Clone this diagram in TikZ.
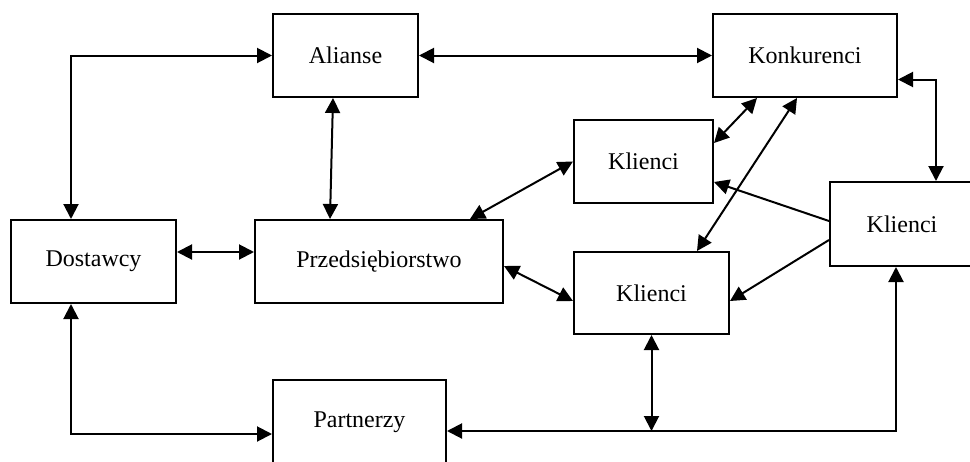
\documentclass[tikz,border=0pt]{standalone}
\usepackage{fontspec}
\setmainfont{Liberation Serif}
\usepackage{tikz}
\usetikzlibrary{positioning, arrows.meta}

\begin{document}
\begin{tikzpicture}[
  x=0.5pt, y=-0.5pt,
  box/.style={rectangle, draw, line width=1pt, minimum height=41.5pt, align=center, font=\fontsize{12pt}{14pt}\selectfont},
  arrow/.style={-{Triangle[length=7.5pt, width=7.5pt]}, line width=1pt},
  dblarrow/.style={{Triangle[length=7.5pt, width=7.5pt]}-{Triangle[length=7.5pt, width=7.5pt]}, line width=1pt},
  every node/.style={inner sep=2pt}
]
\useasboundingbox (0,0) rectangle (970,461);
\node[box, minimum width=72.5pt] (alianse) at (345.5,55.5) {Alianse};
\node[box, minimum width=92pt] (konkurenci) at (805,55.5) {Konkurenci};
\node[box, minimum width=69.5pt] (klienciA) at (643.5,161.5) {Klienci};
\node[box, minimum width=72pt, minimum height=42pt] (klienciR) at (902,224) {Klienci};
\node[box, minimum width=82.5pt] (dostawcy) at (93.5,261.5) {Dostawcy};
\node[box, minimum width=124pt] (firma) at (379,261.5) {Przedsiębiorstwo};
\node[box, minimum width=77.5pt, minimum height=41pt] (klienciB) at (651.5,293) {Klienci};
\node[box, minimum width=86.5pt, minimum height=42pt] (partnerzy) at (359.5,422) {Partnerzy};

\coordinate (bottom) at ([yshift=-4.5pt]partnerzy.east);

\draw[dblarrow] ([xshift=-11.25pt]dostawcy.north) |- (alianse.west);
\draw[dblarrow] (alianse.east) -- (konkurenci.west);
\draw[dblarrow] ([xshift=-6.25pt]alianse.south) -- ([xshift=-24.5pt]firma.north);
\draw[dblarrow] ([yshift=4.75pt]dostawcy.east) -- ([yshift=4.75pt]firma.west);
\draw[dblarrow] ([xshift=45.5pt]firma.north) -- (klienciA.west);
\draw[dblarrow] ([yshift=-2.25pt]firma.east) -- ([yshift=-4pt]klienciB.west);
\draw[dblarrow] ([xshift=-24pt]konkurenci.south) -- ([yshift=9.25pt]klienciA.east);
\draw[dblarrow] ([xshift=-4pt]konkurenci.south) -- ([xshift=22.75pt]klienciB.north);
\draw[dblarrow] ([yshift=-12pt]konkurenci.east) -| ([xshift=17pt]klienciR.north);
\draw[arrow] ([yshift=1.5pt]klienciR.west) -- ([yshift=-10.25pt]klienciA.east);
\draw[arrow] ([yshift=-8pt]klienciR.west) -- ([yshift=-4pt]klienciB.east);
\draw[dblarrow] ([xshift=-11.25pt]dostawcy.south) |- ([yshift=-6pt]partnerzy.west);
\draw[dblarrow] (bottom) -| ([xshift=-3pt]klienciR.south);
\draw[dblarrow] (klienciB.south) -- (klienciB.south |- bottom);
\end{tikzpicture}
\end{document}
